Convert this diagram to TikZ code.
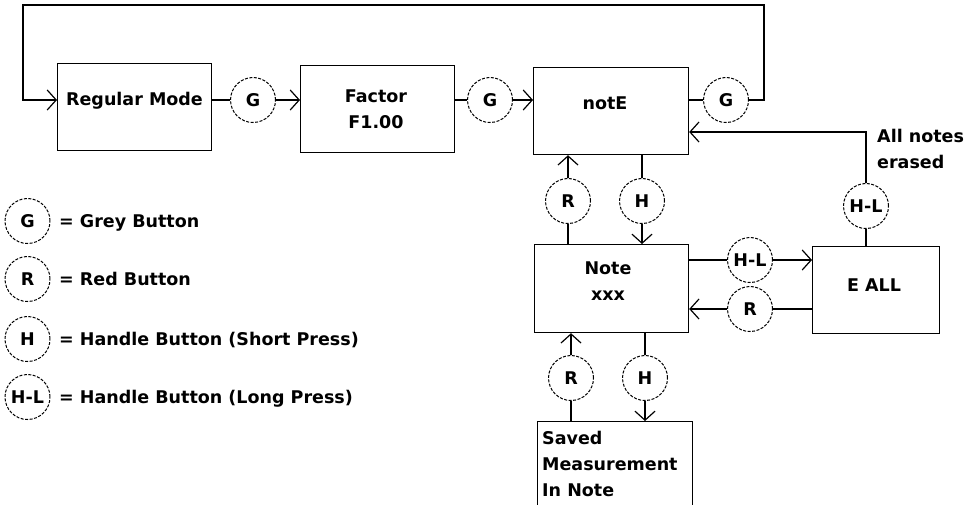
\documentclass[tikz,border=0pt]{standalone}
\usepackage{fontspec}
\setmainfont{DejaVu Sans}
\usetikzlibrary{arrows.meta}
\begin{document}
\begin{tikzpicture}[x=1pt,y=-1pt,
  font=\fontsize{17.5}{26}\selectfont\bfseries,
  box/.style={draw, line width=1.2pt, inner sep=0pt, anchor=north west},
  btn/.style={draw, circle, dash pattern=on 3pt off 1.5pt, line width=1pt, minimum size=45pt, inner sep=0pt},
  lbl/.style={inner sep=0pt, anchor=base},
  mlbl/.style={inner sep=0pt},
  conn/.style={line width=1.2pt},
  arr/.style={conn, -{Straight Barb[length=9pt,width=20pt]}}]
\clip (0,0) rectangle (977,505);
\fill[white] (0,0) rectangle (977,505);

% boxes
\node[box, minimum width=154pt, minimum height=87pt] (reg) at (57,63) {};
\node[lbl] (regt) at (134.5,106) {Regular Mode};
\node[box, minimum width=154pt, minimum height=87pt] (fac) at (300,65) {};
\node[mlbl, align=center] (fact) at (376,109) {Factor\\F1.00};
\node[box, minimum width=155pt, minimum height=87pt] (notE) at (533,67) {};
\node[lbl] (notEt) at (605,109.5) {notE};
\node[box, minimum width=154pt, minimum height=88pt] (nt) at (534,244) {};
\node[mlbl, align=center] (ntt) at (608,281) {Note\\xxx};
\node[box, minimum width=127pt, minimum height=87pt] (eall) at (812,246) {};
\node[lbl] (eallt) at (874,291.5) {E ALL};
\node[box, minimum width=155pt, minimum height=110pt] (saved) at (537,421) {};
\node[mlbl, align=left, anchor=west] (savedt) at (542,464) {Saved\\Measurement\\In Note};
\node[mlbl, align=left, anchor=west] (erased) at (877,149) {All notes\\erased};

% buttons
\node[btn] (g1) at (253,100) {G};
\node[btn] (g2) at (490,100) {G};
\node[btn] (g3) at (726,100) {G};
\node[btn] (r1) at (568,201) {R};
\node[btn] (h1) at (642,201) {H};
\node[btn] (hl1) at (750,260) {H-L};
\node[btn] (r2) at (750,309) {R};
\node[btn] (hl2) at (866,206) {H-L};
\node[btn] (r3) at (571,378) {R};
\node[btn] (h2) at (645,378) {H};

% legend
\node[btn] (lg) at (27.5,221) {G};
\node[btn] (lr) at (27.5,279) {R};
\node[btn] (lh) at (27.5,339) {H};
\node[btn] (lhl) at (27.5,397) {H-L};
\node[lbl, anchor=base west] (lgt) at (59,227.5) {= Grey Button};
\node[lbl, anchor=base west] (lrt) at (59,285.5) {= Red Button};
\node[lbl, anchor=base west] (lht) at (59,345.5) {= Handle Button (Short Press)};
\node[lbl, anchor=base west] (lhlt) at (59,403.5) {= Handle Button (Long Press)};

% connectors
\coordinate (lpR) at (764,5);
\coordinate (lpL) at (23,5);
\coordinate (ret) at (866,132);
\draw[arr] (g3.east) -| (lpR) -- (lpL) |- (reg.west |- g1);
\draw[conn] (reg.east |- g1) -- (g1.west);
\draw[arr] (g1.east) -- (fac.west |- g1);
\draw[conn] (fac.east |- g2) -- (g2.west);
\draw[arr] (g2.east) -- (notE.west |- g2);
\draw[conn] (notE.east |- g3) -- (g3.west);

\draw[conn] (nt.north -| r1) -- (r1.south);
\draw[arr] (r1.north) -- (notE.south -| r1);
\draw[conn] (notE.south -| h1) -- (h1.north);
\draw[arr] (h1.south) -- (nt.north -| h1);

\draw[conn] (nt.east |- hl1) -- (hl1.west);
\draw[arr] (hl1.east) -- (eall.west |- hl1);
\draw[conn] (eall.west |- r2) -- (r2.east);
\draw[arr] (r2.west) -- (nt.east |- r2);

\draw[conn] (eall.north -| hl2) -- (hl2.south);
\draw[arr] (hl2.north) |- (notE.east |- ret);

\draw[conn] (saved.north -| r3) -- (r3.south);
\draw[arr] (r3.north) -- (nt.south -| r3);
\draw[conn] (nt.south -| h2) -- (h2.north);
\draw[arr] (h2.south) -- (saved.north -| h2);
\end{tikzpicture}
\end{document}
